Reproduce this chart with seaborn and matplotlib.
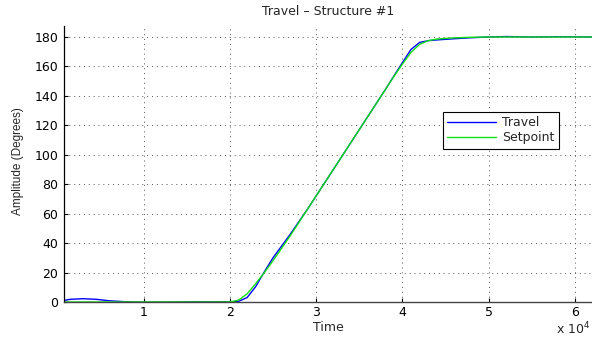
import seaborn as sns
import matplotlib
matplotlib.use('Agg')
import matplotlib.pyplot as plt
from matplotlib.ticker import FuncFormatter

# time in units of 1e4 (scaled below), amplitude in degrees
setpoint_t = [0.075, 0.5, 1.0, 1.5, 2.0, 2.1, 2.2, 2.3, 2.4, 2.5, 2.6, 2.7, 2.8, 2.9, 3.0,
              3.2, 3.4, 3.6, 3.8, 3.9, 4.0, 4.1, 4.2, 4.3, 4.4, 4.6, 4.8, 5.0, 6.2]
setpoint_y = [0, 0, 0, 0, 0, 1.2, 5.5, 12.5, 20, 28, 36.5, 45, 54, 63, 72,
              90, 108, 126, 144, 153, 161.5, 169.5, 175, 177.5, 178.6, 179.4, 179.8, 180, 180]

travel_t = [0.075, 0.15, 0.3, 0.45, 0.6, 0.8, 1.0, 1.3, 1.6, 1.9, 2.0, 2.1, 2.2, 2.3, 2.4,
            2.5, 2.6, 2.7, 2.8, 2.9, 3.0, 3.2, 3.4, 3.6, 3.8, 3.9, 4.0, 4.1, 4.2, 4.3,
            4.4, 4.6, 4.8, 5.0, 5.2, 5.5, 5.8, 6.2]
travel_y = [1.0, 1.8, 2.2, 1.8, 0.8, 0.1, -0.2, -0.1, 0.2, 0.1, 0, 0.4, 3.0, 10.5, 20.5,
            30, 38, 46, 54.5, 63, 72, 90, 108, 126, 144, 153.3, 162.5, 171.5, 176.3, 177.5,
            178, 178.8, 179.5, 180, 180.3, 180, 180.2, 180]

sns.set_style('ticks')
plt.rcParams['font.family'] = ['DejaVu Sans']
plt.rcParams['font.size'] = 9

fig, ax = plt.subplots(figsize=(5.92, 3.37), dpi=100)
fig.subplots_adjust(left=0.108, right=1.0, bottom=0.104, top=0.923)

sns.lineplot(x=[t * 1e4 for t in travel_t], y=travel_y, ax=ax, color='#0000ff',
             linewidth=1.0, label='Travel', sort=False)
sns.lineplot(x=[t * 1e4 for t in setpoint_t], y=setpoint_y, ax=ax, color='#10e010',
             linewidth=1.0, label='Setpoint', sort=False)

ax.set_xlim(750, 62000)
ax.set_ylim(0, 187.5)
ax.set_xticks([10000, 20000, 30000, 40000, 50000, 60000])
ax.set_yticks(range(0, 181, 20))
ax.xaxis.set_major_formatter(FuncFormatter(lambda v, p: '%d' % round(v / 1e4)))
ax.tick_params(direction='in', length=3, width=0.8, labelsize=9, pad=3, colors='black')
ax.tick_params(axis='y', pad=4)
ax.grid(True, linestyle=(0, (1, 4)), color='#555555', linewidth=0.7)

sns.despine(ax=ax)
ax.spines['left'].set_color('black')
ax.spines['bottom'].set_color('#444444')
ax.spines['left'].set_linewidth(0.9)
ax.spines['bottom'].set_linewidth(1.0)

ax.set_title('Travel \u2013 Structure #1', fontsize=9, pad=8)
ax.set_xlabel('Time', fontsize=9, labelpad=1)
ax.set_ylabel('Amplitude (Degrees)', fontsize=8.5, family=['Liberation Sans', 'DejaVu Sans'])
ax.yaxis.set_label_coords(-0.076, 0.51)
ax.text(0.997, -0.098, 'x 10$^4$', transform=ax.transAxes, ha='right', va='center', fontsize=9)

leg = ax.legend(loc='upper left', bbox_to_anchor=(0.718, 0.688), borderaxespad=0,
                fancybox=False, frameon=True, edgecolor='black', framealpha=1, fontsize=9,
                handlelength=3.9, borderpad=0.35, labelspacing=0.15, handletextpad=0.5)
leg.get_frame().set_linewidth(0.8)

fig.savefig('out.png', dpi=100)
